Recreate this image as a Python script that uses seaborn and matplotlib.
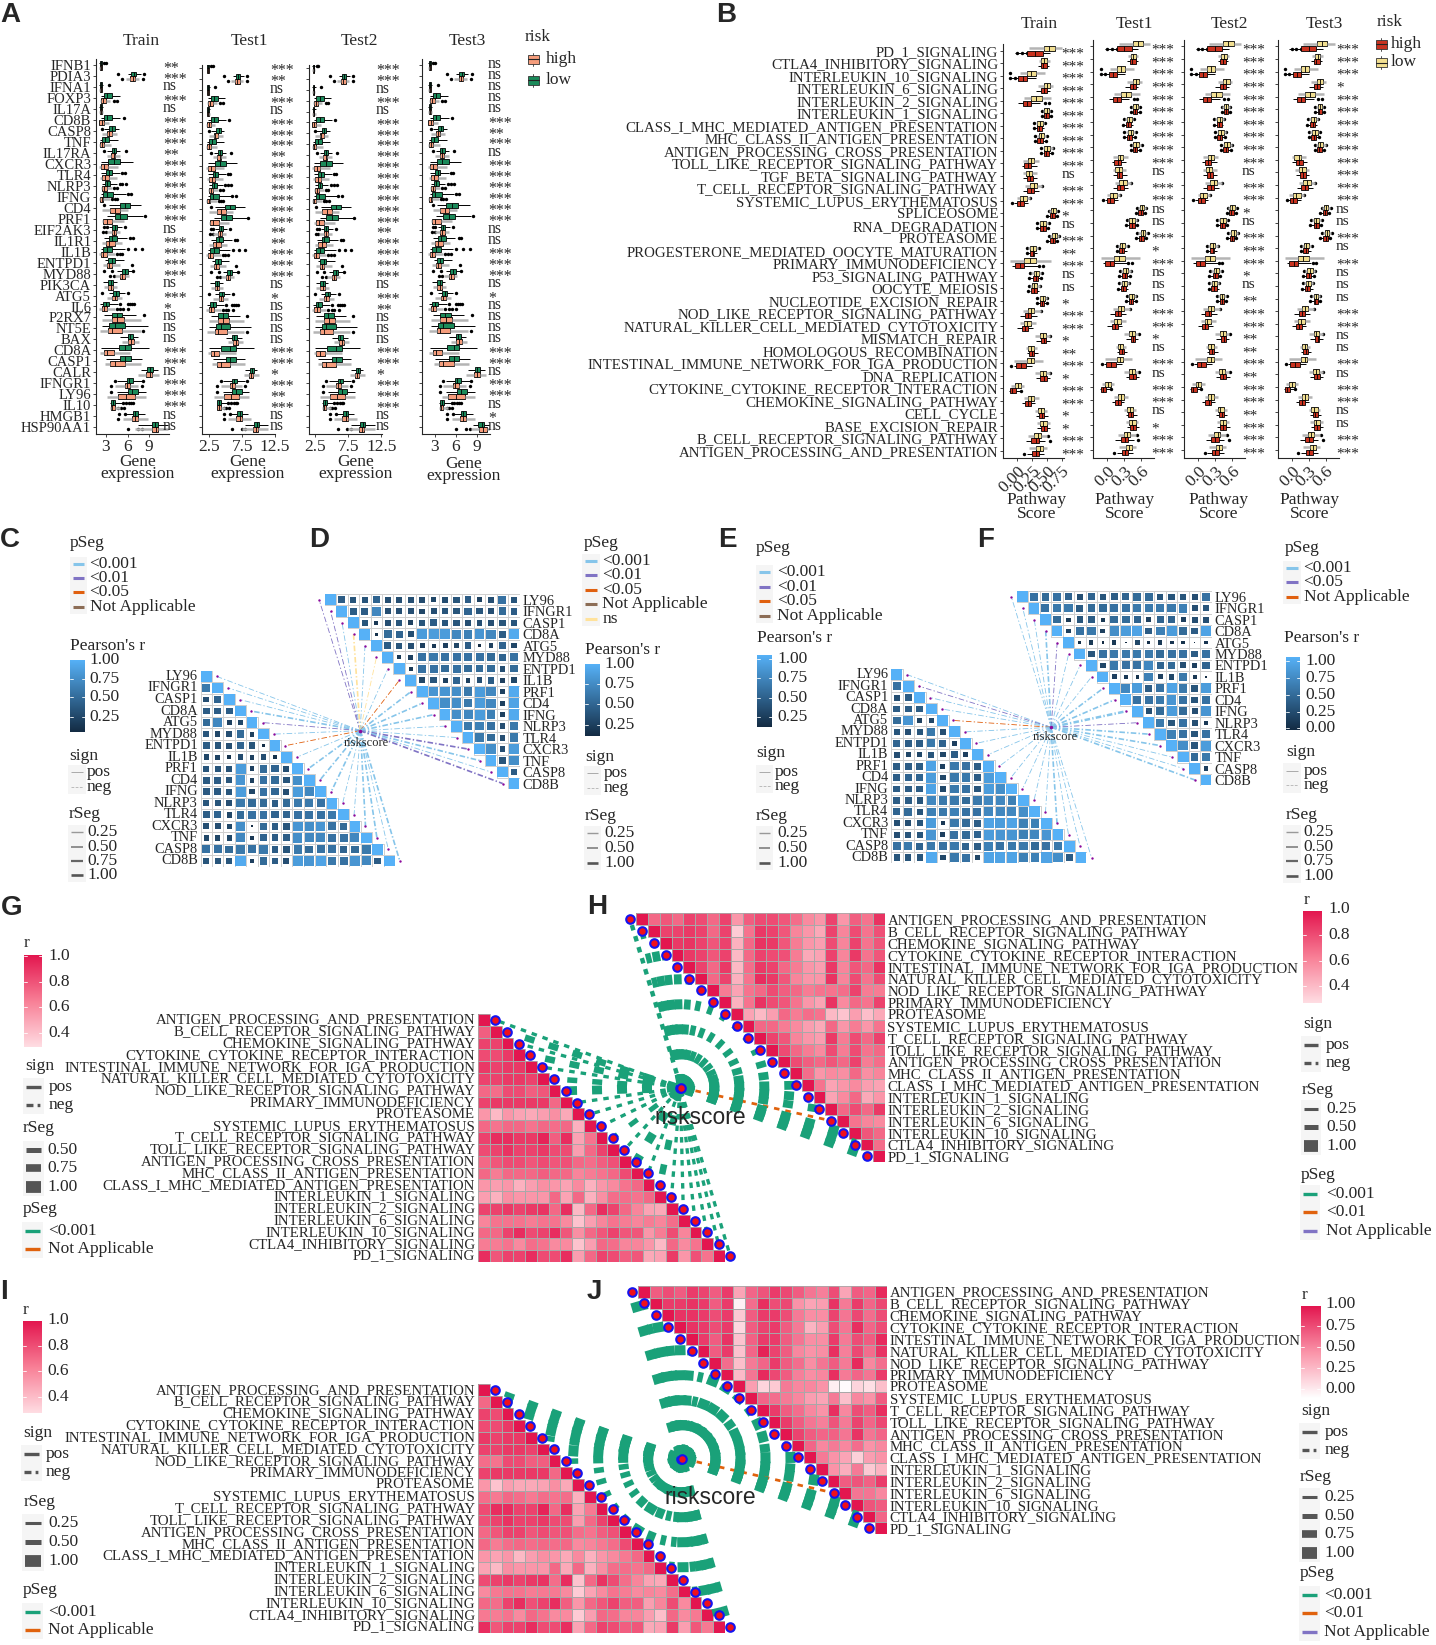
import numpy as np
import pandas as pd
import seaborn as sns
import matplotlib
matplotlib.use('Agg')
import matplotlib.pyplot as plt
from matplotlib.collections import PatchCollection
from matplotlib.colors import LinearSegmentedColormap, to_rgba
from matplotlib.patches import Rectangle

W, H = 1436, 1645

# ---------- panel A: gene expression ----------
genes = ['IFNB1', 'PDIA3', 'IFNA1', 'FOXP3', 'IL17A', 'CD8B', 'CASP8', 'TNF', 'IL17RA', 'CXCR3', 'TLR4',
         'NLRP3', 'IFNG', 'CD4', 'PRF1', 'EIF2AK3', 'IL1R1', 'IL1B', 'ENTPD1', 'MYD88', 'PIK3CA', 'ATG5',
         'IL6', 'P2RX7', 'NT5E', 'BAX', 'CD8A', 'CASP1', 'CALR', 'IFNGR1', 'LY96', 'IL10', 'HMGB1', 'HSP90AA1']
# low: whisker, q1, median, q3, whisker, then the same for high
gene_stats = [
    [2.1, 2.2, 2.3, 2.4, 2.5, 2.1, 2.2, 2.3, 2.4, 2.5],
    [6.1, 6.5, 6.9, 7.2, 7.8, 5.8, 6.4, 6.7, 7.1, 7.6],
    [2.1, 2.2, 2.3, 2.4, 2.6, 2.1, 2.2, 2.3, 2.4, 2.5],
    [2.3, 2.7, 3.2, 3.8, 4.9, 2.2, 2.3, 2.6, 3.0, 3.6],
    [2.1, 2.2, 2.3, 2.4, 2.6, 2.1, 2.2, 2.3, 2.4, 2.6],
    [2.3, 2.7, 3.2, 3.8, 5.0, 2.0, 2.1, 2.4, 2.7, 3.4],
    [2.7, 3.5, 3.9, 4.2, 4.8, 2.5, 3.2, 3.4, 3.8, 4.5],
    [2.2, 2.5, 2.9, 3.5, 4.7, 2.0, 2.2, 2.4, 2.7, 3.7],
    [3.2, 3.8, 4.1, 4.4, 5.0, 3.1, 3.7, 4.1, 4.3, 5.0],
    [2.3, 3.3, 4.1, 5.0, 6.7, 2.0, 2.3, 2.8, 3.3, 4.7],
    [2.3, 3.0, 3.4, 3.8, 5.0, 2.2, 2.5, 2.9, 3.4, 4.6],
    [2.5, 2.9, 3.2, 3.6, 4.5, 2.3, 2.5, 2.8, 3.1, 3.8],
    [2.3, 2.6, 3.1, 4.0, 5.8, 2.0, 2.2, 2.4, 2.6, 3.6],
    [3.4, 4.9, 5.7, 6.4, 7.9, 2.5, 3.6, 4.3, 5.0, 6.1],
    [3.2, 4.2, 5.0, 5.9, 8.2, 2.4, 2.6, 3.1, 3.9, 5.5],
    [3.4, 3.9, 4.2, 4.5, 5.2, 3.1, 3.8, 4.1, 4.4, 5.0],
    [2.8, 3.5, 3.9, 4.6, 5.9, 2.5, 3.0, 3.5, 4.2, 5.2],
    [2.3, 2.6, 3.2, 3.9, 5.6, 2.0, 2.3, 2.6, 3.1, 4.2],
    [2.9, 3.3, 3.8, 4.2, 5.5, 2.6, 3.2, 3.5, 3.9, 5.0],
    [4.6, 5.2, 5.6, 6.0, 6.7, 4.3, 5.0, 5.3, 5.7, 6.2],
    [2.6, 3.3, 3.7, 4.0, 4.5, 2.7, 3.3, 3.7, 4.0, 4.6],
    [3.4, 4.0, 4.4, 4.8, 5.6, 3.1, 3.9, 4.2, 4.6, 5.3],
    [2.2, 2.6, 3.0, 3.5, 4.7, 2.0, 2.4, 2.8, 3.2, 4.2],
    [2.7, 3.8, 4.5, 5.3, 7.2, 2.5, 3.8, 4.6, 5.5, 7.8],
    [2.5, 3.5, 4.2, 5.7, 8.8, 2.2, 3.3, 3.8, 5.2, 7.8],
    [5.0, 6.0, 6.3, 6.7, 7.5, 5.3, 6.1, 6.5, 6.9, 7.6],
    [2.3, 4.8, 5.7, 6.5, 9.0, 2.2, 2.8, 3.2, 4.1, 6.4],
    [3.0, 5.0, 5.7, 6.5, 8.0, 2.9, 3.6, 4.2, 5.7, 7.9],
    [7.8, 8.7, 9.1, 9.5, 10.2, 7.5, 8.6, 9.1, 9.4, 10.3],
    [4.6, 5.9, 6.2, 6.7, 8.0, 4.2, 5.6, 5.9, 6.4, 7.5],
    [4.5, 6.0, 6.6, 7.4, 8.6, 3.2, 4.7, 5.8, 7.0, 8.5],
    [3.6, 3.7, 4.0, 4.3, 5.3, 3.6, 3.7, 3.9, 4.2, 4.9],
    [5.8, 6.7, 7.1, 7.5, 8.4, 5.4, 6.6, 7.1, 7.5, 8.8],
    [7.5, 9.4, 9.8, 10.2, 11.6, 7.0, 9.4, 9.9, 10.2, 11.6],
]
gene_test_changes = {
    26: [2.5, 4.3, 5.6, 6.5, 9.3, 2.3, 2.7, 3.2, 4.0, 6.6],
    28: [8.0, 8.7, 9.0, 9.3, 9.8, 7.8, 8.5, 8.8, 9.2, 10.0],
    33: [8.0, 9.3, 9.7, 10.0, 11.5, 7.5, 9.2, 9.6, 9.9, 11.5],
}
gene_test3_changes = {
    13: [3.3, 4.6, 5.4, 6.3, 8.0, 2.7, 3.8, 4.4, 5.1, 6.2],
    30: [4.6, 6.2, 6.8, 7.6, 8.7, 4.0, 4.9, 6.0, 7.3, 8.7],
    33: [8.5, 9.2, 9.7, 10.1, 10.9, 8.2, 9.3, 9.9, 10.5, 10.9],
}
gene_fliers_low = {0: [2.8, 3.0], 1: [4.7, 8.3], 2: [3.4], 5: [5.5], 6: [2.5], 8: [2.8, 5.8], 10: [5.3, 5.6],
                   11: [4.9, 5.3, 5.8], 12: [6.0, 6.5], 13: [2.7], 14: [8.4], 15: [2.8, 3.1, 5.6], 16: [6.4, 6.7],
                   17: [6.1, 7.0, 8.0], 19: [2.8, 3.9, 6.8], 21: [2.5, 6.1], 22: [5.0, 6.0, 6.3, 6.6, 6.9],
                   23: [8.3], 29: [4.2, 8.2], 30: [3.7], 31: [5.4, 5.8, 6.2, 6.5, 6.7], 32: [4.8, 5.6]}
gene_fliers_high = {1: [5.3, 8.2], 3: [4.1, 4.5], 11: [4.1, 4.5], 12: [3.9, 4.2, 4.6], 15: [2.6, 3.0],
                    17: [4.5, 4.9, 5.3], 18: [6.6], 19: [3.6, 4.1], 22: [4.5, 5.0, 5.4, 6.1], 24: [8.2],
                    29: [3.7, 8.0], 31: [4.7, 5.1, 5.5], 32: [4.7], 33: [6.0, 7.4, 8.0]}
sig_a_train = ['**', '***', 'ns', '***', 'ns', '***', '***', '***', '**', '***', '***', '***', '***', '***', '***', 'ns',
               '***', '***', '***', '***', 'ns', '***', '*', 'ns', 'ns', 'ns', '***', '***', 'ns', '***', '***', '***', 'ns', 'ns']
sig_a_test1 = ['***', '**', 'ns', '***', 'ns', '***', '***', '***', '**', '***', '***', '***', '***', '***', '***', '**',
               '**', '***', '***', '***', 'ns', '*', 'ns', 'ns', 'ns', 'ns', '***', '***', '*', '***', '**', '***', 'ns', 'ns']
sig_a_test2 = ['***', '***', 'ns', '***', 'ns', '***', '***', '***', '***', '***', '***', '***', '***', '***', '***', '**',
               '***', '***', '***', '***', 'ns', '***', '**', 'ns', 'ns', 'ns', '***', '***', '*', '***', '***', '***', 'ns', 'ns']
sig_a_test3 = ['ns', 'ns', 'ns', 'ns', 'ns', '***', '**', '***', 'ns', '***', '***', '***', '***', '***', '***', 'ns',
               'ns', '***', '***', '***', 'ns', '*', 'ns', 'ns', 'ns', 'ns', '***', '***', 'ns', '***', '***', 'ns', '*', 'ns']

# ---------- panel B: pathway score ----------
pathways = ['PD_1_SIGNALING', 'CTLA4_INHIBITORY_SIGNALING', 'INTERLEUKIN_10_SIGNALING', 'INTERLEUKIN_6_SIGNALING',
            'INTERLEUKIN_2_SIGNALING', 'INTERLEUKIN_1_SIGNALING', 'CLASS_I_MHC_MEDIATED_ANTIGEN_PRESENTATION',
            'MHC_CLASS_II_ANTIGEN_PRESENTATION', 'ANTIGEN_PROCESSING_CROSS_PRESENTATION',
            'TOLL_LIKE_RECEPTOR_SIGNALING_PATHWAY', 'TGF_BETA_SIGNALING_PATHWAY', 'T_CELL_RECEPTOR_SIGNALING_PATHWAY',
            'SYSTEMIC_LUPUS_ERYTHEMATOSUS', 'SPLICEOSOME', 'RNA_DEGRADATION', 'PROTEASOME',
            'PROGESTERONE_MEDIATED_OOCYTE_MATURATION', 'PRIMARY_IMMUNODEFICIENCY', 'P53_SIGNALING_PATHWAY', 'OOCYTE_MEIOSIS',
            'NUCLEOTIDE_EXCISION_REPAIR', 'NOD_LIKE_RECEPTOR_SIGNALING_PATHWAY', 'NATURAL_KILLER_CELL_MEDIATED_CYTOTOXICITY',
            'MISMATCH_REPAIR', 'HOMOLOGOUS_RECOMBINATION', 'INTESTINAL_IMMUNE_NETWORK_FOR_IGA_PRODUCTION', 'DNA_REPLICATION',
            'CYTOKINE_CYTOKINE_RECEPTOR_INTERACTION', 'CHEMOKINE_SIGNALING_PATHWAY', 'CELL_CYCLE', 'BASE_EXCISION_REPAIR',
            'B_CELL_RECEPTOR_SIGNALING_PATHWAY', 'ANTIGEN_PROCESSING_AND_PRESENTATION']
path_stats = [
    [.20, .45, .54, .63, .76, -.04, .17, .30, .43, .55],
    [.36, .41, .46, .51, .55, .35, .40, .44, .50, .54],
    [.04, .17, .24, .31, .47, -.12, .02, .09, .17, .31],
    [.35, .45, .50, .56, .61, .31, .40, .45, .50, .55],
    [.12, .24, .32, .42, .57, .02, .09, .16, .24, .39],
    [.43, .46, .50, .54, .56, .43, .46, .49, .53, .56],
    [.31, .34, .39, .43, .46, .29, .33, .37, .42, .45],
    [.33, .36, .41, .46, .49, .31, .34, .39, .43, .47],
    [.44, .46, .51, .56, .60, .43, .45, .49, .53, .57],
    [.10, .18, .23, .28, .36, .08, .12, .18, .24, .33],
    [.10, .14, .20, .25, .33, .10, .16, .21, .26, .34],
    [.13, .21, .28, .34, .42, .10, .17, .23, .29, .37],
    [.00, .04, .10, .16, .22, -.05, .00, .05, .12, .18],
    [.54, .57, .61, .65, .68, .52, .55, .59, .63, .66],
    [.36, .39, .44, .49, .52, .35, .39, .43, .48, .51],
    [.55, .59, .63, .67, .70, .52, .56, .60, .64, .67],
    [.18, .22, .26, .31, .35, .17, .21, .26, .29, .34],
    [-.12, .12, .21, .31, .57, -.08, -.04, .04, .12, .35],
    [.24, .28, .32, .37, .41, .22, .26, .31, .35, .39],
    [.22, .25, .29, .34, .38, .21, .24, .28, .33, .37],
    [.36, .39, .43, .47, .50, .35, .39, .42, .46, .49],
    [.10, .18, .24, .29, .40, .05, .13, .19, .24, .33],
    [.05, .12, .17, .24, .32, .00, .08, .13, .18, .26],
    [.30, .39, .44, .49, .55, .32, .41, .46, .49, .55],
    [.15, .18, .23, .28, .33, .16, .20, .25, .29, .35],
    [-.05, .16, .23, .28, .43, -.06, -.02, .06, .15, .25],
    [.30, .38, .43, .48, .55, .32, .39, .45, .50, .56],
    [-.10, -.04, .01, .06, .12, -.14, -.12, -.08, -.02, .05],
    [.12, .18, .24, .29, .36, .08, .13, .19, .24, .30],
    [.30, .35, .40, .46, .51, .32, .37, .42, .46, .52],
    [.33, .39, .44, .50, .55, .34, .40, .45, .50, .56],
    [.18, .29, .35, .40, .50, .14, .24, .31, .37, .47],
    [.20, .32, .38, .43, .50, .16, .25, .31, .37, .46],
]
path_test3_changes = {
    9: [.00, .04, .13, .17, .25, .00, .08, .13, .20, .28],
    10: [.06, .13, .19, .25, .30, .08, .15, .20, .25, .30],
    12: [-.05, .02, .08, .17, .22, -.06, -.02, .03, .10, .16],
}
path_fliers_low = {2: [-.12], 5: [.42, .57], 6: [.29, .47], 7: [.30, .50], 8: [.41, .61], 11: [.42], 12: [.22],
                   13: [.53, .69], 14: [.34, .53], 15: [.53, .71], 16: [.16, .36], 18: [.22, .42], 19: [.20, .38],
                   20: [.34, .51], 21: [.40], 23: [.56], 26: [.56], 31: [.52]}
path_fliers_high = {0: [.00, .08, .16], 2: [-.12, -.04], 4: [.47, .53], 5: [.42, .57], 6: [.28], 7: [.30, .48],
                    8: [.41, .58], 12: [-.08], 13: [.51, .67], 14: [.33, .52], 15: [.51, .68], 16: [.16], 17: [.37, .43],
                    18: [.20, .40], 19: [.19], 20: [.33, .50], 25: [-.10], 27: [.06], 31: [.55], 32: [.12]}
sig_b_train = ['***', '***', '***', '***', '***', '***', '***', '***', '***', '***', 'ns', '***', '***', '*', 'ns', '***', '**',
               '***', 'ns', 'ns', '*', '***', '***', '*', '**', '***', '*', '***', '***', '*', '*', '***', '***']
sig_b_test1 = ['***', '***', '***', '***', '***', '***', '***', '***', '***', '***', 'ns', '***', '***', 'ns', 'ns', '***', '*',
               '***', 'ns', 'ns', 'ns', '***', '***', '*', 'ns', '***', 'ns', '***', '***', 'ns', '*', '***', '***']
sig_b_test2 = ['***', '***', '***', '***', '***', '***', '***', '***', '***', '***', 'ns', '***', '***', '*', 'ns', '***', '***',
               '***', '*', 'ns', '**', '***', '***', '**', '**', '***', '**', '***', '***', '**', '***', '***', '***']
sig_b_test3 = ['***', '***', '***', '*', '***', '***', '***', '***', '***', '***', '***', '***', '***', 'ns', 'ns', '***', 'ns',
               '***', 'ns', 'ns', 'ns', '***', '***', 'ns', 'ns', '***', 'ns', '***', '***', 'ns', 'ns', '***', '***']

# ---------- panels C-F: gene correlation ----------
cor_genes = ['LY96', 'IFNGR1', 'CASP1', 'CD8A', 'ATG5', 'MYD88', 'ENTPD1', 'IL1B', 'PRF1', 'CD4', 'IFNG', 'NLRP3',
             'TLR4', 'CXCR3', 'TNF', 'CASP8', 'CD8B']
cor_c = [[.6], [.3, .45], [.4, .4, .4], [.5, .7, .2, .25], [.35, .25, .3, .5, .2], [.4, .35, .3, .45, .35, .07],
         [.25, .22, .1, .28, .2, .3, .1], [.35, .35, .32, .85, .2, .5, .45, .3],
         [.38, .4, .35, .8, .2, .55, .5, .35, .75], [.38, .38, .35, .85, .25, .55, .48, .3, .85, .7],
         [.35, .35, .3, .6, .5, .5, .4, .5, .6, .6, .55], [.4, .45, .25, .5, .55, .55, .45, .45, .55, .55, .55, .6],
         [.3, .3, .25, .75, .04, .5, .4, .35, .8, .75, .8, .55, .5],
         [.25, .25, .25, .7, .15, .45, .4, .4, .75, .7, .7, .55, .55, .7],
         [.55, .55, .5, .6, .55, .6, .4, .35, .6, .5, .55, .55, .45, .5, .6],
         [.35, .35, .35, .95, .2, .5, .4, .3, .85, .8, .9, .6, .55, .8, .7, .4]]
cor_d = [[.4, .35, .35, .45, .3, .3, .3, .28, .25, .3, .35, .4, .2, .3, .55, .35],
         [.4, .4, .7, .3, .3, .3, .25, .3, .35, .35, .45, .35, .3, .5, .4],
         [.35, .15, .3, .35, .2, .35, .4, .35, .35, .3, .3, .3, .35, .35],
         [.1, .5, .45, .3, .85, .85, .85, .7, .65, .8, .7, .4, .95],
         [.4, .35, .3, .2, .15, .2, .25, .4, .06, .2, .45, .25],
         [.15, .2, .55, .6, .55, .55, .55, .55, .5, .45, .55],
         [.15, .55, .55, .5, .55, .5, .5, .5, .3, .5],
         [.25, .35, .2, .45, .2, .3, .4, .2, .25],
         [.8, .8, .75, .6, .85, .7, .2, .95], [.75, .75, .6, .85, .7, .2, .9], [.75, .7, .85, .65, .2, .95],
         [.6, .65, .55, .3, .6], [.6, .5, .3, .6], [.75, .3, .85], [.35, .75], [.4]]
cor_e = [[.55], [.3, .4], [.4, .4, .4], [.5, .8, .2, .25], [.35, .3, .35, .6, .3], [.45, .4, .4, .6, .45, .2],
         [.3, .25, .25, .35, .25, .4, .2], [.4, .4, .4, .9, .2, .6, .55, .4],
         [.4, .45, .45, .85, .25, .6, .6, .4, .85], [.4, .4, .4, .9, .25, .6, .55, .35, .85, .75],
         [.4, .4, .35, .7, .6, .6, .5, .6, .7, .7, .65], [.45, .5, .35, .65, .6, .65, .55, .55, .7, .7, .7, .75],
         [.3, .3, .35, .85, .15, .6, .5, .4, .9, .85, .9, .65, .65],
         [.3, .35, .35, .8, .2, .55, .5, .45, .85, .8, .8, .65, .7, .8],
         [.55, .6, .45, .6, .55, .6, .45, .4, .65, .55, .6, .6, .5, .55, .6],
         [.35, .35, .35, .95, .25, .6, .55, .25, .9, .9, .9, .65, .65, .9, .75, .4]]
cor_f = [[.55, .5, .55, .45, .3, .45, .35, .4, .45, .5, .5, .35, .35, .35, .3, .55],
         [.55, .6, .6, .4, .5, .5, .55, .55, .6, .6, .6, .6, .65, .3, .35],
         [.5, .15, .35, .4, .15, .5, .5, .45, .2, .45, .45, .2, .3, .3],
         [.2, .55, .6, .2, .75, .85, .9, .4, .65, .85, .5, .4, .9],
         [.08, .15, .05, .15, .02, .25, .08, .15, .12, .1, .02, .12],
         [.35, .55, .6, .6, .6, .6, .5, .55, .55, .4, .55],
         [.25, .6, .55, .55, .7, .45, .5, .3, .2, .45],
         [.2, .15, .1, .65, .2, .25, .6, .15, .02],
         [.7, .85, .4, .55, .9, .6, .35, .85], [.55, .55, .6, .8, .55, .35, .55], [.3, .5, .85, .5, .3, .8],
         [.6, .35, .55, .3, .15], [.65, .55, .35, .55], [.75, .35, .85], [.5, .6], [.2]]
# link colour and width per row: s = <0.001, p = purple, o = orange, y = ns
link_c_p = list('sssspsossssssssss')
link_c_r = [.25, .25, .25, .5, .25, .25, .25, .25, .5, .5, .5, .25, .25, .5, .5, .25, .5]
link_d_p = list('ppsysysossssspssps'[:17])
link_d_r = [.25, .25, .25, .5, .25, .25, .25, .25, .5, .5, .5, .25, .25, .5, .5, .25, .5]
link_e_p = list('spssossssssssssss')
link_e_r = [.25, .25, .25, .25, .25, .25, .25, .25, .25, .25, .25, .25, .25, .5, .25, .25, .25]
link_f_p = list('sssspsssssspsssss')
link_f_r = [.25, .25, .25, .5, .25, .25, .25, .25, .5, .5, .75, .25, .5, .5, .25, .25, .5]

# ---------- panels G-J: pathway correlation ----------
path_order = ['ANTIGEN_PROCESSING_AND_PRESENTATION', 'B_CELL_RECEPTOR_SIGNALING_PATHWAY', 'CHEMOKINE_SIGNALING_PATHWAY',
              'CYTOKINE_CYTOKINE_RECEPTOR_INTERACTION', 'INTESTINAL_IMMUNE_NETWORK_FOR_IGA_PRODUCTION',
              'NATURAL_KILLER_CELL_MEDIATED_CYTOTOXICITY', 'NOD_LIKE_RECEPTOR_SIGNALING_PATHWAY', 'PRIMARY_IMMUNODEFICIENCY',
              'PROTEASOME', 'SYSTEMIC_LUPUS_ERYTHEMATOSUS', 'T_CELL_RECEPTOR_SIGNALING_PATHWAY',
              'TOLL_LIKE_RECEPTOR_SIGNALING_PATHWAY', 'ANTIGEN_PROCESSING_CROSS_PRESENTATION',
              'MHC_CLASS_II_ANTIGEN_PRESENTATION', 'CLASS_I_MHC_MEDIATED_ANTIGEN_PRESENTATION', 'INTERLEUKIN_1_SIGNALING',
              'INTERLEUKIN_2_SIGNALING', 'INTERLEUKIN_6_SIGNALING', 'INTERLEUKIN_10_SIGNALING',
              'CTLA4_INHIBITORY_SIGNALING', 'PD_1_SIGNALING']
cor_g = [[.75], [.85, .85], [.82, .82, .88], [.88, .85, .88, .88], [.85, .85, .88, .88, .85],
         [.72, .70, .82, .82, .75, .78], [.85, .88, .88, .88, .88, .88, .72],
         [.55, .42, .55, .50, .48, .52, .58, .48], [.72, .68, .72, .72, .68, .72, .70, .72, .45],
         [.85, .92, .92, .88, .88, .95, .75, .92, .5, .68], [.82, .85, .9, .85, .85, .88, .82, .82, .52, .72, .85],
         [.72, .78, .82, .82, .78, .82, .78, .8, .72, .7, .75, .8],
         [.72, .65, .72, .72, .72, .75, .72, .72, .62, .65, .68, .72, .82],
         [.55, .52, .55, .45, .52, .58, .55, .5, .6, .45, .55, .6, .68, .72],
         [.52, .45, .58, .55, .55, .55, .72, .5, .72, .45, .58, .7, .7, .68, .72],
         [.85, .85, .88, .85, .88, .9, .72, .92, .42, .72, .92, .85, .72, .62, .5, .48],
         [.62, .68, .68, .68, .65, .68, .68, .6, .38, .52, .62, .68, .65, .62, .65, .62, .7],
         [.72, .72, .85, .92, .82, .85, .92, .78, .58, .72, .78, .85, .78, .78, .55, .65, .82, .62],
         [.65, .65, .68, .6, .7, .68, .6, .6, .38, .52, .72, .7, .62, .62, .55, .42, .72, .6, .68],
         [.92, .78, .85, .85, .92, .82, .82, .92, .52, .72, .85, .82, .75, .78, .48, .5, .88, .55, .8, .68]]
cor_h = [[.72, .78, .72, .85, .82, .72, .85, .55, .75, .82, .82, .78, .7, .6, .55, .85, .55, .75, .68, .9],
         [.85, .85, .88, .85, .72, .85, .35, .68, .88, .85, .78, .62, .55, .48, .85, .62, .82, .68, .8],
         [.88, .9, .85, .78, .85, .45, .72, .9, .88, .78, .65, .55, .52, .82, .62, .85, .68, .78],
         [.88, .85, .78, .85, .42, .72, .85, .82, .8, .65, .48, .5, .85, .62, .88, .68, .78],
         [.85, .72, .88, .42, .7, .88, .85, .72, .65, .55, .52, .88, .62, .78, .72, .9],
         [.72, .85, .45, .68, .92, .88, .78, .62, .55, .55, .9, .62, .82, .68, .82],
         [.65, .5, .68, .72, .82, .75, .72, .65, .68, .68, .7, .85, .65, .65],
         [.45, .68, .9, .82, .78, .68, .55, .5, .9, .6, .72, .68, .85],
         [.5, .42, .52, .72, .65, .7, .68, .42, .38, .52, .4, .48],
         [.72, .72, .65, .6, .52, .48, .72, .55, .65, .55, .68],
         [.85, .78, .62, .55, .52, .88, .65, .82, .72, .85],
         [.82, .72, .65, .6, .82, .65, .82, .68, .72],
         [.82, .75, .72, .78, .72, .85, .65, .7],
         [.7, .55, .6, .58, .72, .58, .62], [.68, .5, .55, .6, .52, .5], [.5, .6, .72, .48, .55],
         [.72, .82, .72, .88], [.68, .62, .6], [.78, .72], [.7]]
cor_i = [[.72], [.85, .82], [.82, .82, .88], [.88, .85, .88, .88], [.85, .85, .88, .88, .85],
         [.7, .68, .82, .82, .75, .75], [.85, .88, .88, .88, .88, .88, .72],
         [.55, .38, .52, .48, .48, .5, .58, .48], [.7, .66, .72, .7, .66, .7, .68, .7, .45],
         [.82, .92, .92, .85, .85, .95, .72, .92, .5, .66], [.8, .85, .9, .85, .85, .88, .82, .82, .52, .72, .85],
         [.72, .78, .85, .85, .78, .82, .78, .8, .7, .68, .75, .8],
         [.72, .65, .7, .72, .7, .72, .7, .72, .6, .62, .66, .7, .82],
         [.55, .5, .55, .42, .52, .58, .55, .48, .6, .45, .55, .6, .66, .72],
         [.5, .42, .58, .55, .55, .55, .72, .48, .72, .45, .58, .7, .7, .68, .72],
         [.82, .85, .88, .85, .88, .9, .7, .92, .38, .72, .9, .82, .7, .62, .5, .48],
         [.6, .66, .68, .68, .65, .66, .66, .6, .35, .5, .6, .68, .65, .6, .62, .6, .7],
         [.72, .7, .85, .92, .8, .85, .92, .75, .55, .72, .78, .85, .75, .75, .52, .62, .82, .6],
         [.66, .65, .68, .6, .72, .68, .6, .6, .35, .52, .72, .7, .62, .62, .52, .4, .72, .6, .66],
         [.92, .78, .85, .85, .92, .82, .82, .92, .5, .72, .85, .82, .75, .78, .48, .5, .88, .52, .78, .66]]
cor_j = [[.72, .78, .72, .85, .82, .72, .85, .42, .68, .75, .85, .8, .72, .62, .58, .78, .42, .72, .68, .92],
         [.85, .85, .88, .85, .72, .85, .06, .65, .9, .78, .8, .5, .42, .45, .88, .6, .85, .68, .8],
         [.88, .88, .85, .78, .85, .25, .72, .85, .85, .78, .6, .52, .52, .82, .62, .8, .65, .78],
         [.88, .85, .78, .85, .18, .72, .82, .85, .72, .6, .35, .45, .78, .62, .9, .68, .78],
         [.85, .72, .88, .28, .7, .85, .85, .72, .62, .52, .52, .85, .6, .78, .72, .92],
         [.72, .85, .28, .68, .95, .82, .72, .55, .5, .52, .9, .58, .8, .65, .88],
         [.65, .3, .6, .68, .85, .72, .65, .52, .62, .72, .6, .92, .55, .65],
         [.32, .62, .92, .8, .72, .58, .52, .55, .9, .6, .68, .62, .85],
         [.45, .2, .25, .6, .55, .55, .5, .08, .02, .2, .15, .3],
         [.68, .65, .6, .55, .45, .42, .6, .3, .55, .5, .72],
         [.85, .72, .65, .55, .5, .9, .55, .78, .72, .9],
         [.85, .72, .62, .58, .75, .6, .82, .68, .8],
         [.82, .72, .68, .7, .62, .88, .62, .68],
         [.68, .55, .6, .55, .65, .5, .55], [.6, .5, .42, .22, .45, .5], [.5, .38, .6, .25, .35],
         [.72, .75, .7, .85], [.62, .62, .55], [.75, .72], [.68]]
link_g_r = [.3, .6, .3, .6, .3, .5, .8, .3, .3, .3, .45, .3, .8, .3, .6, .3, .3, .3, .3, .3, .3]
link_h_r = [.4, .5, .7, .7, .7, .6, .5, .5, .5, .5, .5, .5, .6, .7, .8, .8, .7, .25, .9, 1, .8]
link_i_r = [.5, 1, .5, 1, .5, 1, .5, .5, .5, .5, .5, .75, 1, .75, .5, .5, 1, .5, 1, 1, .5]
link_j_r = [1, .5, 1, .75, 1, .75, .5, 1, 1, 1, .75, 1, 1, .75, 1, .75, 1, .25, 1, 1, .75]
link_h_p = ['s'] * 17 + ['o'] + ['s'] * 3
link_j_p = ['s'] * 17 + ['o'] + ['s'] * 3

sns.set_style('white')
plt.rcParams['font.family'] = ['Liberation Serif', 'DejaVu Serif']
plt.rcParams['lines.scale_dashes'] = False
plt.rcParams['axes.linewidth'] = 0.8

fig = plt.figure(figsize=(W / 100, H / 100), dpi=100)


def px_axes(left, right, top, bottom):
    a = fig.add_axes([left / W, 1 - bottom / H, (right - left) / W, (bottom - top) / H])
    a.patch.set_alpha(0)
    return a


def box_panel(rect, rows, stats, changes, fl_low, fl_high, colors, grey_risk, row0, rowN, xlim, ticks, ticklabels,
              sig, sig_x, names=None, rot=0, width=.9, label_size=10.5, sig_size=11.3):
    ax = px_axes(*rect)
    rec = []
    for i in range(len(rows)):
        vals = changes.get(i, stats[i])
        rec += [(i, 'low', v) for v in vals[:5]] + [(i, 'high', v) for v in vals[5:]]
    df = pd.DataFrame(rec, columns=['row', 'risk', 'value'])
    sns.boxplot(data=df, x='value', y='row', hue='risk', hue_order=['low', 'high'], palette=colors, orient='y',
                whis=(0, 100), width=width, linewidth=.6, linecolor='black', fliersize=0, showcaps=False,
                saturation=1, legend=False, ax=ax)
    for c in ax.containers:
        grey = to_rgba(c.boxes[0].get_facecolor()) == to_rgba(colors[grey_risk])
        for w in c.whiskers:
            if grey:
                w.set(color='#B4B4B4', linewidth=1.8)
            else:
                w.set(color='black', linewidth=.7)
    fx = [v for k in fl_low for v in fl_low[k]] + [v for k in fl_high for v in fl_high[k]]
    fy = [k - width / 4 for k in fl_low for v in fl_low[k]] + [k + width / 4 for k in fl_high for v in fl_high[k]]
    sns.scatterplot(x=fx, y=fy, color='black', s=6, linewidth=0, legend=False, ax=ax, clip_on=False)

    step = (rowN - row0) / (len(rows) - 1)
    ax.set_ylim((rect[3] - row0) / step, (rect[2] - row0) / step)
    ax.set_xlim(*xlim)
    ax.set_xticks(ticks)
    ax.set_xticklabels(ticklabels, fontsize=12.5, rotation=rot, ha='right' if rot else 'center',
                       rotation_mode='anchor' if rot else 'default')
    ax.set_yticks(range(len(rows)))
    if names is None:
        ax.set_yticklabels([])
    else:
        ax.set_yticklabels(names, fontsize=label_size)
    ax.tick_params(axis='both', length=2, width=.6, pad=1.5, left=True, bottom=True)
    ax.set_xlabel('')
    ax.set_ylabel('')
    sns.despine(ax=ax)
    xf = (sig_x - rect[0]) / (rect[1] - rect[0])
    for i, s in enumerate(sig):
        ax.text(xf, i + (0.3 if s != 'ns' else -0.1), s, transform=ax.get_yaxis_transform(), fontsize=sig_size,
                va='center', ha='left', clip_on=False)
    return ax


A_COL = {'high': '#F59D7C', 'low': '#1B8A5A'}
B_COL = {'high': '#C9321F', 'low': '#F2DF91'}

gene_tests = gene_test_changes
box_panel((96, 169, 59, 434), genes, gene_stats, {}, gene_fliers_low, gene_fliers_high, A_COL, 'high', 65.5, 427,
          (1.63, 11.75), [3, 6, 9], ['3', '6', '9'], sig_a_train, 163, names=genes)
box_panel((202, 275, 65, 434), genes, gene_stats, gene_tests, gene_fliers_low, gene_fliers_high, A_COL, 'high', 68, 427,
          (1.37, 12.2), [2.5, 7.5, 12.5], ['2.5', '7.5', '12.5'], sig_a_test1, 270)
box_panel((309, 382, 65, 434), genes, gene_stats, gene_tests, gene_fliers_low, gene_fliers_high, A_COL, 'high', 68, 427,
          (1.6, 12.6), [2.5, 7.5, 12.5], ['2.5', '7.5', '12.5'], sig_a_test2, 376)
box_panel((421.5, 490, 59, 434), genes, gene_stats, gene_test3_changes, gene_fliers_low, gene_fliers_high, A_COL, 'high', 65.5, 427,
          (1.1, 10.9), [3, 6, 9], ['3', '6', '9'], sig_a_test3, 488)

box_panel((1003, 1064, 44, 458), pathways, path_stats, {}, path_fliers_low, path_fliers_high, B_COL, 'low', 50.7, 451,
          (-.24, .79), [0, .25, .5, .75], ['0.00', '0.25', '0.50', '0.75'], sig_b_train, 1061.5, names=pathways,
          rot=45, width=.8, label_size=10.7, sig_size=11)
box_panel((1093.4, 1154, 40.5, 458), pathways, path_stats, {}, path_fliers_low, path_fliers_high, B_COL, 'low', 46.3, 450,
          (-.25, .825), [0, .3, .6], ['0.0', '0.3', '0.6'], sig_b_test1, 1151.6, rot=45, width=.8, sig_size=11)
box_panel((1183.6, 1244.6, 40.5, 458), pathways, path_stats, {}, path_fliers_low, path_fliers_high, B_COL, 'low', 46.3, 450,
          (-.25, .825), [0, .3, .6], ['0.0', '0.3', '0.6'], sig_b_test2, 1242, rot=45, width=.8, sig_size=11)
box_panel((1277.5, 1338.5, 40.5, 458), pathways, path_stats, path_test3_changes, path_fliers_low, path_fliers_high, B_COL, 'low', 46.3, 450,
          (-.25, .83), [0, .3, .6], ['0.0', '0.3', '0.6'], sig_b_test3, 1336, rot=45, width=.8, sig_size=11)


def to_matrix(rows, n, lower):
    m = np.full((n, n), np.nan)
    np.fill_diagonal(m, 1)
    for k, r in enumerate(rows):
        for j, v in enumerate(r):
            if lower:
                m[k + 1, j] = v
            else:
                m[k, k + 1 + j] = v
    return m


def cell_grid(ax, mask, color, lw):
    # seaborn's own linewidths also outline the masked cells, so outline only the filled ones
    yy, xx = np.where(~mask)
    cells = [Rectangle((x, y), 1, 1) for x, y in zip(xx, yy)]
    ax.add_collection(PatchCollection(cells, facecolor='none', edgecolor=color, linewidth=lw, zorder=1.5))


BLUE = LinearSegmentedColormap.from_list('ggblue', ['#132B43', '#56B1F7'])
PINK = LinearSegmentedColormap.from_list('pink_r', ['#FFDDE3', '#F87F96', '#E3164F'])
PINK0 = LinearSegmentedColormap.from_list('pink0', ['#FFFFFF', '#FA93A8', '#E3164F'])
LINK_COL = {'s': '#86C5EA', 'p': '#8073C4', 'o': '#E0600F', 'y': '#FFE29B'}
NET_COL = {'s': '#1AA179', 'o': '#E0620D'}


def square_panel(rect, labels, rows, lower, center, link_p, link_r):
    n = len(labels)
    m = to_matrix(rows, n, lower)
    ax = px_axes(*rect)
    df = pd.DataFrame(m, index=labels, columns=labels)
    mask = df.isna().values
    sns.heatmap(np.zeros((n, n)), mask=mask, cmap=['white'], cbar=False, xticklabels=False, yticklabels=labels, ax=ax)
    cell_grid(ax, mask, '#CFCFCF', .7)
    cell = (rect[1] - rect[0]) / n
    yy, xx = np.where(~mask)
    vals = m[yy, xx]
    sizes = (np.sqrt(vals) * cell * .94 * .72) ** 2
    ax.scatter(xx + .5, yy + .5, s=sizes, c=vals, cmap=BLUE, vmin=.05, vmax=1, marker='s', linewidths=0, zorder=3)
    off = 1.42 if lower else -.48
    for i in range(n):
        ax.plot([center[0], i + off], [center[1], i + .5], color=LINK_COL[link_p[i]], lw=link_r[i] * 2.4,
                ls=(0, (4, 1.6, 1, 1.6)), clip_on=False, zorder=2)
    ax.scatter(np.arange(n) + off, np.arange(n) + .5, s=3, color='#8B0A9C', linewidths=0, clip_on=False, zorder=4)
    ax.scatter([center[0]], [center[1]], s=6, color='#8B0A9C', linewidths=0, clip_on=False, zorder=4)
    if not lower:
        ax.yaxis.tick_right()
    ax.tick_params(axis='y', length=0, pad=2, labelsize=10.4, labelrotation=0)
    return ax


def heat_panel(rect, labels, rows, lower, center, link_p, link_r, cmap, vmin):
    n = len(labels)
    m = to_matrix(rows, n, lower)
    ax = px_axes(*rect)
    df = pd.DataFrame(m, index=labels, columns=labels)
    sns.heatmap(df, mask=df.isna(), cmap=cmap, vmin=vmin, vmax=1, cbar=False,
                xticklabels=False, yticklabels=labels, ax=ax)
    cell_grid(ax, df.isna().values, '#A8A8A8', .6)
    off = 1.45 if lower else -.5
    for i in range(n):
        w = link_r[i] * 11
        # thin links have short dashes, wide ones make the long arcs
        on, gap = (5.5, 6.0) if w < 4.5 else (10.0, 15.0)
        ax.plot([center[0], i + off], [center[1], i + .5], color=NET_COL[link_p[i]], lw=w * .72,
                ls=(-3.3 * .72, (on * .72, gap * .72)), dash_capstyle='butt', clip_on=False, zorder=2)
    ax.scatter(list(np.arange(n) + off) + [center[0]], list(np.arange(n) + .5) + [center[1]], s=38, color='#F0101A',
               edgecolors='#1414F0', linewidths=1.5, clip_on=False, zorder=5)
    if not lower:
        ax.yaxis.tick_right()
    ax.tick_params(axis='y', length=0, pad=2, labelsize=10.7, labelrotation=0)
    return ax


square_panel((200.6, 395, 670.7, 866.7), cor_genes, cor_c, True, (13.98, 5.2), link_c_p, link_c_r)
square_panel((324.6, 519.7, 594, 789.3), cor_genes, cor_d, False, (3.1, 11.9), link_d_p, link_d_r)
square_panel((891, 1086.7, 669, 863.3), cor_genes, cor_e, True, (13.9, 5.1), link_e_p, link_e_r)
square_panel((1016.8, 1211.8, 591, 785.7), cor_genes, cor_f, False, (3.0, 11.9), link_f_p, link_f_r)
heat_panel((478, 725, 1014, 1262), path_order, cor_g, True, (17.2, 6.25), ['s'] * 21, link_g_r, PINK, .28)
heat_panel((636, 884.6, 913.3, 1162.3), path_order, cor_h, False, (3.8, 14.7), link_h_p, link_h_r, PINK, .28)
heat_panel((478, 725, 1384.3, 1633), path_order, cor_i, True, (17.3, 6.3), ['s'] * 21, link_i_r, PINK, .28)
heat_panel((638.4, 886.8, 1285.7, 1534.3), path_order, cor_j, False, (3.7, 14.6), link_j_p, link_j_r, PINK0, 0)

# everything below is drawn on one overlay in pixel units: legends, titles, panel letters
ov = fig.add_axes([0, 0, 1, 1], zorder=20)
ov.patch.set_alpha(0)
ov.axis('off')
FS = 12.5


def txt(x, y, s, size=FS, ha='left', **kw):
    ov.text(x, y, s, fontsize=size, ha=ha, va='center', **kw)


for (x, y, s) in [(10, 15, 'A'), (726, 15, 'B'), (10, 540, 'C'), (319, 540, 'D'), (727, 540, 'E'), (986, 540, 'F'),
                  (12, 908, 'G'), (597, 907, 'H'), (4, 1292, 'I'), (594, 1292, 'J')]:
    txt(x, y, s, size=20, ha='center', family='Liberation Sans', fontweight='bold')

for x, s in [(141, 'Train'), (249, 'Test1'), (359, 'Test2'), (467, 'Test3')]:
    txt(x, 41, s, ha='center')
for x, y in [(138, 462), (248, 462), (356, 462), (464, 464)]:
    txt(x, y, 'Gene', ha='center')
    txt(x, y + 12, 'expression', ha='center')
for x, s in [(1039, 'Train'), (1134, 'Test1'), (1229.6, 'Test2'), (1324, 'Test3')]:
    txt(x, 23.5, s, ha='center')
for x in [1036.7, 1125, 1219, 1310]:
    txt(x, 500, 'Pathway', ha='center')
    txt(x, 514, 'Score', ha='center')


def risk_key(x, y, col, label, tx):
    ov.plot([x, x], [y - 6.5, y + 6.5], color='#333333', lw=.6, zorder=1)
    ov.add_patch(Rectangle((x - 5, y - 4.5), 11, 9, facecolor=col, edgecolor='#333333', lw=.6, zorder=2))
    ov.plot([x - 5, x + 6], [y, y], color='#222222', lw=.8, zorder=3)
    txt(tx, y, label)


txt(525, 37, 'risk')
risk_key(533, 59, A_COL['high'], 'high', 546)
risk_key(533, 80, A_COL['low'], 'low', 546)
txt(1377, 22, 'risk')
risk_key(1381, 44, B_COL['high'], 'high', 1391)
risk_key(1381, 62.5, B_COL['low'], 'low', 1391)


def seg_legend(title, tx, ty, labels, ys, kx0, kx1, lx, colors=None, lws=None, styles=None):
    step = ys[1] - ys[0] if len(ys) > 1 else 14
    ov.add_patch(Rectangle((kx0 - 3, ys[0] - step / 2), kx1 - kx0 + 6, ys[-1] - ys[0] + step,
                           facecolor='#F5F5F5', edgecolor='none'))
    txt(tx, ty, title)
    for i, (lab, y) in enumerate(zip(labels, ys)):
        c = colors[i] if colors else '#555555'
        lw = lws[i] if lws else 2.2
        ls = styles[i] if styles else '-'
        ov.plot([kx0, kx1], [y, y], color=c, lw=lw, ls=ls, dash_capstyle='butt', solid_capstyle='butt')
        txt(lx, y, lab)


def color_bar(title, tx, ty, x0, x1, y0, y1, cmap, labels, ys, lx):
    txt(tx, ty, title)
    grad = np.linspace(1, 0, 256).reshape(-1, 1)
    ov.imshow(grad, cmap=cmap, extent=(x0, x1, y1, y0), aspect='auto', origin='upper', vmin=0, vmax=1, zorder=1)
    for lab, y in zip(labels, ys):
        txt(lx, y, lab)
        if y0 < y < y1:
            ov.plot([x0, x0 + 3], [y, y], color='white', lw=.6, zorder=2)
            ov.plot([x1 - 3, x1], [y, y], color='white', lw=.6, zorder=2)


PC = {'<0.001': '#86C5EA', '<0.01': '#8073C4', '<0.05': '#E0600F', 'Not Applicable': '#8C6D56', 'ns': '#FFE29B'}
THIN = dict(colors=['#AAAAAA', '#BBBBBB'], lws=[.7, .7], styles=['-', (0, (2, 1))])
pearson = ['1.00', '0.75', '0.50', '0.25']
pos_neg = ['pos', 'neg']


def blue_keys(title_x, px_title, p_labels, p_ys, kx0, kx1, lx, colors=None):
    seg_legend('pSeg', title_x, px_title, p_labels, p_ys, kx0, kx1, lx, colors=colors or [PC[p] for p in p_labels],
               lws=[2.2] * len(p_labels))


def rseg_blue(title_x, ty, labels, ys, kx0, kx1, lx):
    greys = {'0.25': ('#999999', 1), '0.50': ('#888888', 1.3), '0.75': ('#666666', 1.6), '1.00': ('#555555', 1.9)}
    seg_legend('rSeg', title_x, ty, labels, ys, kx0, kx1, lx, colors=[greys[k][0] for k in labels],
               lws=[greys[k][1] for k in labels])


# C
blue_keys(70, 543, ['<0.001', '<0.01', '<0.05', 'Not Applicable'], [564, 578, 592.3, 607], 72.5, 84, 89.5)
color_bar("Pearson's r", 70, 646, 70, 84.5, 660, 732, BLUE, pearson, [660, 679, 697, 716.7], 89.5)
seg_legend('sign', 69, 756, pos_neg, [772, 786.7], 71, 83, 87, **THIN)
rseg_blue(69, 814, ['0.25', '0.50', '0.75', '1.00'], [832, 846.7, 860.7, 875], 71, 83, 87)
# D
blue_keys(584, 543, ['<0.001', '<0.01', '<0.05', 'Not Applicable', 'ns'], [560.7, 575, 589.7, 604, 619], 585, 597, 602.4)
color_bar("Pearson's r", 585, 650, 585, 599.6, 664, 736, BLUE, pearson, [664, 684, 704, 725], 604)
seg_legend('sign', 585, 756.7, pos_neg, [773, 787.7], 587, 598, 604, **THIN)
rseg_blue(585, 816, ['0.25', '0.50', '1.00'], [833, 848, 862.7], 587, 598, 604)
# E
blue_keys(755.6, 548, ['<0.001', '<0.01', '<0.05', 'Not Applicable'], [572, 586.7, 601, 616], 759, 770, 777)
color_bar("Pearson's r", 757, 637.7, 757.4, 771.6, 655, 727, BLUE, pearson, [658.7, 678, 697.7, 717], 777)
seg_legend('sign', 756, 752.7, pos_neg, [771.7, 786], 759, 770, 775, **THIN)
rseg_blue(756, 815.7, ['0.25', '0.50', '1.00'], [833, 848, 862.7], 759, 770, 777)
# F
blue_keys(1285, 548, ['<0.001', '<0.05', 'Not Applicable'], [568, 582, 597], 1286, 1297.6, 1303.5,
          colors=['#86C5EA', '#8073C4', '#E0600F'])
color_bar("Pearson's r", 1284, 637.7, 1286, 1300, 657.7, 730, BLUE, pearson + ['0.00'],
          [661.3, 678, 695, 711.7, 728], 1305)
seg_legend('sign', 1286, 751.7, pos_neg, [770.7, 785.3], 1286, 1297.6, 1303.5, **THIN)
rseg_blue(1286, 814.7, ['0.25', '0.50', '0.75', '1.00'], [832, 847, 861, 875.7], 1286, 1297.6, 1303.5)

SIGN = dict(colors=['#555555', '#555555'], lws=[2.4, 2.4], styles=['-', (0, (5, 3, 2, 3))])


def r_keys(title_x, ty, labels, ys, kx0, kx1, lx):
    w = {'0.25': 2.2, '0.50': 3.6, '0.75': 5.5, '1.00': 8.5}
    seg_legend('rSeg', title_x, ty, labels, ys, kx0, kx1, lx, lws=[w[k] for k in labels])


rt = ['1.0', '0.8', '0.6', '0.4']
# G
color_bar('r', 24, 943, 23.6, 41.5, 955, 1046.7, PINK, rt, [955.7, 981.7, 1007, 1033], 48)
seg_legend('sign', 25, 1065.7, pos_neg, [1086.7, 1105], 26, 41, 49, **SIGN)
r_keys(23, 1128, ['0.50', '0.75', '1.00'], [1150, 1168, 1186.7], 26, 41, 47)
seg_legend('pSeg', 23, 1209, ['<0.001', 'Not Applicable'], [1230.7, 1249], 24.5, 40, 48,
           colors=['#1AA179', '#E0620D'], lws=[2.4, 2.4])
# H
color_bar('r', 1304, 900, 1303, 1322, 911.7, 1003, PINK, rt, [909, 935, 960.7, 985.7], 1328)
seg_legend('sign', 1303, 1024, pos_neg, [1045, 1063], 1304, 1318, 1326, **SIGN)
r_keys(1302, 1090, ['0.25', '0.50', '1.00'], [1109, 1127, 1145.7], 1304, 1318, 1326)
seg_legend('pSeg', 1301, 1175, ['<0.001', '<0.01', 'Not Applicable'], [1194, 1212, 1231], 1303, 1317, 1326,
           colors=['#1AA179', '#E0620D', '#8073C4'], lws=[2.4, 2.4, 2.4])
# I
color_bar('r', 23, 1310, 22.7, 41, 1321.7, 1413, PINK, rt, [1320, 1345.7, 1371, 1397], 47.5)
seg_legend('sign', 23, 1433, pos_neg, [1454, 1472], 24, 39, 46, **SIGN)
r_keys(24, 1502, ['0.25', '0.50', '1.00'], [1523, 1542, 1561], 25, 41, 48)
seg_legend('pSeg', 23, 1590, ['<0.001', 'Not Applicable'], [1611.7, 1630], 24.5, 40, 48,
           colors=['#1AA179', '#E0620D'], lws=[2.4, 2.4])
# J
color_bar('r', 1302, 1295, 1300.5, 1319.6, 1306.7, 1398, PINK0, ['1.00', '0.75', '0.50', '0.25', '0.00'],
          [1304, 1326, 1347, 1368, 1389], 1325)
seg_legend('sign', 1301, 1411, pos_neg, [1431.7, 1450], 1302, 1317, 1325, **SIGN)
r_keys(1300, 1476.7, ['0.25', '0.50', '0.75', '1.00'], [1497, 1515.7, 1534, 1552.7], 1302, 1317, 1324)
seg_legend('pSeg', 1300, 1573, ['<0.001', '<0.01', 'Not Applicable'], [1595, 1613, 1631.7], 1302, 1317, 1324,
           colors=['#1AA179', '#E0620D', '#8073C4'], lws=[2.4, 2.4, 2.4])

# riskscore captions
for x, y in [(366, 742.7), (1055.6, 737.3)]:
    txt(x, y, 'riskscore', size=9, ha='center')
for x, y in [(700, 1117), (710, 1498)]:
    txt(x, y, 'riskscore', size=16.5, ha='center', family='Liberation Sans')

ov.set_xlim(0, W)
ov.set_ylim(H, 0)

fig.savefig('out.png', dpi=100)
